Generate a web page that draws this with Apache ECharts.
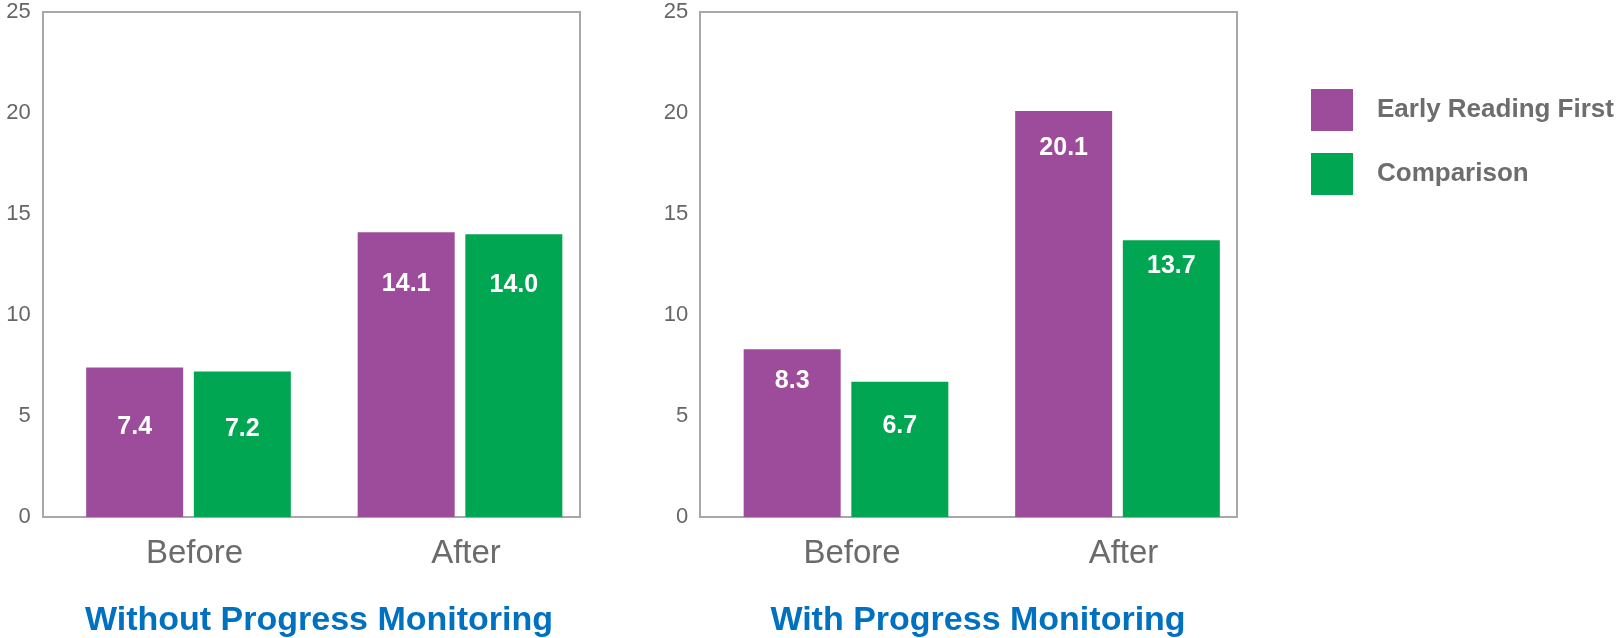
<!DOCTYPE html>
<html>
<head>
<meta charset="utf-8">
<title>Early Reading First: Before and After</title>
<script src="https://cdn.jsdelivr.net/npm/echarts@6/dist/echarts.min.js"></script>
<style>
  html, body { margin: 0; padding: 0; background: #ffffff; }
  #chart { width: 1619px; height: 638px; }
</style>
</head>
<body>
<div id="chart"></div>
<script>
// Categories and tick values
const periods = ['Before', 'After'];
const yTicks = { min: 0, max: 25, step: 5 };

// Panel titles
const panelTitles = ['Without Progress Monitoring', 'With Progress Monitoring'];

// Series names
const groupNames = ['Early Reading First', 'Comparison'];

// Scores: without progress monitoring
const withoutERF = [7.4, 14.1];
const withoutComparison = [7.2, 14.0];

// Scores: with progress monitoring
const withERF = [8.3, 20.1];
const withComparison = [6.7, 13.7];

const PURPLE = '#9c4c9a';
const GREEN = '#00a651';
const FONT = '"Liberation Sans", Arial, sans-serif';

// Panel geometry: a framed box plus a slightly wider grid holding the bars.
// labelDist: gap (px) between each bar top and its value label, [ERF, Comparison] x [Before, After]
const panels = [
  { boxLeft: 43, barLeft: 52.75, titleX: 314, labelDist: [[47, 39], [45, 38]], erf: withoutERF, cmp: withoutComparison },
  { boxLeft: 700, barLeft: 710.25, titleX: 973, labelDist: [[19, 25], [32, 13]], erf: withERF, cmp: withComparison }
];
const TOP = 12, HEIGHT = 505, BOX_W = 537, BAR_W = 543;

const grid = [], xAxis = [], yAxis = [], series = [], title = [];

panels.forEach((p, i) => {
  const boxIdx = grid.length;
  grid.push({
    left: p.boxLeft, top: TOP, width: BOX_W, height: HEIGHT,
    show: true, borderColor: '#a8a8aa', borderWidth: 2, backgroundColor: 'transparent'
  });
  xAxis.push({ gridIndex: boxIdx, type: 'value', show: false, min: 0, max: 1 });
  yAxis.push({ gridIndex: boxIdx, type: 'value', show: false, min: 0, max: 1 });

  const barIdx = grid.length;
  grid.push({ left: p.barLeft, top: TOP, width: BAR_W, height: HEIGHT });
  xAxis.push({
    gridIndex: barIdx, type: 'category', data: periods,
    axisLine: { show: false }, axisTick: { show: false },
    axisLabel: { fontSize: 33, color: '#6b6b6b', margin: 20, fontFamily: FONT, padding: [0, 0, 0, 12] }
  });
  yAxis.push({
    gridIndex: barIdx, type: 'value',
    min: yTicks.min, max: yTicks.max, interval: yTicks.step,
    axisLine: { show: false }, axisTick: { show: false }, splitLine: { show: false },
    axisLabel: { fontSize: 22, color: '#666666', margin: 22, fontFamily: FONT }
  });

  [[groupNames[0], p.erf, PURPLE, p.labelDist[0]], [groupNames[1], p.cmp, GREEN, p.labelDist[1]]]
    .forEach(([name, values, color, dists]) => {
      series.push({
        name, type: 'bar', xAxisIndex: barIdx, yAxisIndex: barIdx,
        data: values.map((v, k) => ({ value: v, label: { distance: dists[k] } })),
        barWidth: 97, barGap: '11%',
        itemStyle: { color },
        label: {
          show: true, position: 'insideTop',
          color: '#ffffff', fontWeight: 'bold', fontSize: 25, fontFamily: FONT,
          formatter: (d) => d.value.toFixed(1)
        },
        emphasis: { disabled: true }
      });
    });

  title.push({
    text: panelTitles[i], left: p.titleX, top: 599, textAlign: 'center',
    textStyle: { fontSize: 34, fontWeight: 'bold', color: '#0070c0', fontFamily: FONT }
  });
});

const chart = echarts.init(document.getElementById('chart'), null, { renderer: 'canvas' });
chart.setOption({
  animation: false,
  title,
  legend: {
    data: groupNames, orient: 'vertical', left: 1306, top: 84,
    icon: 'rect', itemWidth: 42, itemHeight: 42, itemGap: 22,
    selectedMode: false,
    textStyle: { fontSize: 26, fontWeight: 'bold', color: '#6d6d6d', fontFamily: FONT, padding: [0, 0, 0, 19] }
  },
  grid, xAxis, yAxis, series
});
</script>
</body>
</html>
